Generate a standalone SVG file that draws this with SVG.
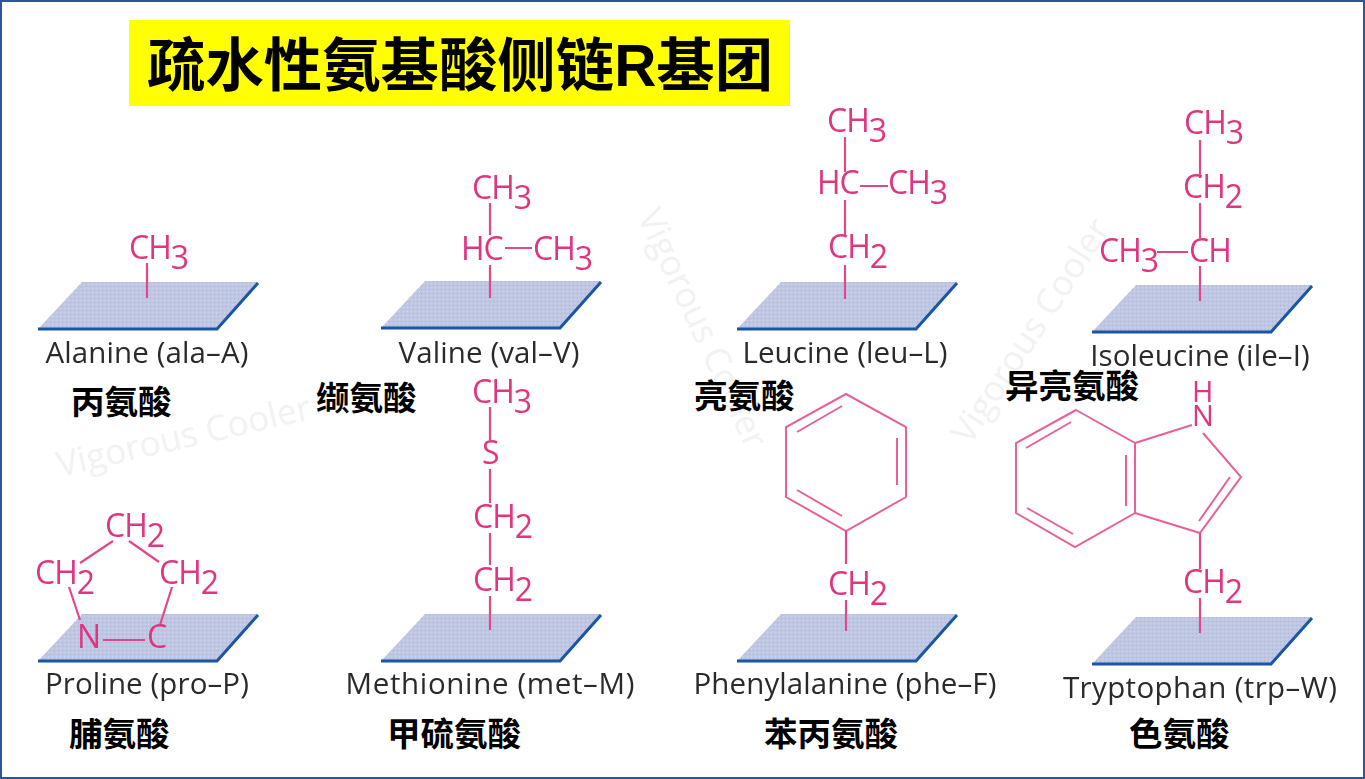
<svg xmlns="http://www.w3.org/2000/svg" width="1365" height="779" viewBox="0 0 1365 779">
<style>
.wm{font-family:"Open Sans","Liberation Sans",sans-serif;font-size:35px;fill:#f2f2f2}
.plate{fill:url(#tex)}
.edge{fill:none;stroke:#1a55a5;stroke-width:3}
.b{fill:none;stroke:#e2478a;stroke-width:2.2}
.r{fill:none;stroke:#e8609a;stroke-width:2}
.m{font-family:"Open Sans","Liberation Sans",sans-serif;font-size:32px;letter-spacing:-1px;fill:#e0367f}
.hn{font-size:29px}
.n{font-family:"Open Sans","Liberation Sans",sans-serif;font-size:29.5px;letter-spacing:.1px;fill:#2c2c2c;text-anchor:middle}
.c{font-family:"Liberation Sans","Noto Sans CJK SC",sans-serif;font-weight:700;font-size:33.5px;fill:#000}
.soft{filter:url(#soft)}
</style>
<defs>
<filter id="soft" x="-5%" y="-5%" width="110%" height="110%"><feGaussianBlur stdDeviation="0.4"/></filter>
<pattern id="tex" width="4" height="4" patternUnits="userSpaceOnUse"><rect width="4" height="4" fill="#bfc7e3"/><rect width="1" height="1" fill="#aab4d6"/><rect x="2" y="2" width="1" height="1" fill="#cdd4ec"/></pattern>
<g id="pl"><polygon class="plate" points="0,47 44,0 220,0 179,47"/><path class="edge" d="M0,47H179L220,1"/></g>
</defs>
<rect x="1" y="1" width="1363" height="777" fill="#fff" stroke="#2f5597" stroke-width="2"/>
<g id="watermarks">
<text class="wm" transform="translate(60,477) rotate(-13)">Vigorous Cooler</text>
<text class="wm" transform="translate(637,216) rotate(65)">Vigorous Cooler</text>
<text class="wm" transform="translate(970,446) rotate(-57)">Vigorous Cooler</text>
</g>
<g id="title"><rect x="129" y="20" width="661" height="86" fill="#ffff00"/>
<text x="147" y="86" font-family="'Liberation Sans','Noto Sans CJK SC',sans-serif" font-weight="700" font-size="58.4">疏水性氨基酸侧链R基团</text></g>

<g id="alanine"><g class="soft"><use href="#pl" x="38" y="282"/><path class="b" d="M147,263V298"/>
<text class="m" x="129" y="259">CH<tspan dy="10">3</tspan></text>
<text class="n" x="147" y="363">Alanine (ala–A)</text></g><text class="c" x="71" y="414">丙氨酸</text></g>

<g id="valine"><g class="soft"><use href="#pl" x="381" y="281"/><path class="b" d="M490,203V235M490,265V298M505,248H532"/>
<text class="m" x="472" y="199">CH<tspan dy="10">3</tspan></text>
<text class="m" x="461" y="260">HC</text><text class="m" x="533" y="260">CH<tspan dy="10">3</tspan></text>
<text class="n" x="489" y="363">Valine (val–V)</text></g><text class="c" x="316" y="410">缬氨酸</text></g>

<g id="leucine"><g class="soft"><use href="#pl" x="737" y="282"/><path class="b" d="M845,137V172M845,200V236M845,265V299M860,186H888"/>
<text class="m" x="827" y="132">CH<tspan dy="10">3</tspan></text>
<text class="m" x="817" y="194">HC</text><text class="m" x="888" y="194">CH<tspan dy="10">3</tspan></text>
<text class="m" x="828" y="258">CH<tspan dy="10">2</tspan></text>
<text class="n" x="845" y="363">Leucine (leu–L)</text></g><text class="c" x="694" y="408">亮氨酸</text></g>

<g id="isoleucine"><g class="soft"><use href="#pl" x="1092" y="285"/><path class="b" d="M1200,140V178M1200,203V238M1200,266V301M1157,252H1188"/>
<text class="m" x="1184" y="134">CH<tspan dy="10">3</tspan></text>
<text class="m" x="1183" y="198">CH<tspan dy="10">2</tspan></text>
<text class="m" x="1189" y="262">CH</text><text class="m" x="1099" y="262">CH<tspan dy="10">3</tspan></text>
<text class="n" x="1200" y="366">Isoleucine (ile–I)</text></g><text class="c" x="1005" y="398">异亮氨酸</text></g>

<g id="proline"><g class="soft"><use href="#pl" x="38" y="614"/><path class="b" d="M113,541L80,563M129,541L159,562M69,587L80,620M172,587L160,625M103,640H145"/>
<text class="m" x="105" y="537">CH<tspan dy="10">2</tspan></text>
<text class="m" x="35" y="584">CH<tspan dy="10">2</tspan></text>
<text class="m" x="159" y="584">CH<tspan dy="10">2</tspan></text>
<text class="m" x="77" y="648">N</text><text class="m" x="147" y="648">C</text>
<text class="n" x="147" y="694">Proline (pro–P)</text></g><text class="c" x="69" y="746">脯氨酸</text></g>

<g id="methionine"><g class="soft"><use href="#pl" x="381" y="614"/><path class="b" d="M490,407V440M490,469V503M490,533V565M490,596V630"/>
<text class="m" x="472" y="403">CH<tspan dy="10">3</tspan></text>
<text class="m" x="482" y="464">S</text>
<text class="m" x="473" y="528">CH<tspan dy="10">2</tspan></text>
<text class="m" x="473" y="591">CH<tspan dy="10">2</tspan></text>
<text class="n" x="490" y="694" textLength="289">Methionine (met–M)</text></g><text class="c" x="387" y="746">甲硫氨酸</text></g>

<g id="phenylalanine"><g class="soft"><use href="#pl" x="737" y="614"/>
<path class="r" d="M846,394L906,427V497L846,531L786,497V427ZM797,432L842,406M897,438V485M797,490L842,516"/>
<path class="b" d="M846,531V564M846,600V631"/>
<text class="m" x="828" y="595">CH<tspan dy="10">2</tspan></text>
<text class="n" x="845" y="694">Phenylalanine (phe–F)</text></g><text class="c" x="764" y="746">苯丙氨酸</text></g>

<g id="tryptophan"><g class="soft"><use href="#pl" x="1092" y="617"/>
<path class="r" d="M1076,410L1135,443V513L1075,547L1016,513V443ZM1026,448L1071,422M1126,455V506M1027,508L1073,534M1135,443L1192,425M1203,433L1241,477L1200,533L1135,513M1230,477L1199,521"/>
<path class="b" d="M1200,533V569M1200,598V633"/>
<text class="m hn" x="1192" y="402">H</text><text class="m hn" x="1192" y="426">N</text>
<text class="m" x="1183" y="593">CH<tspan dy="10">2</tspan></text>
<text class="n" x="1200" y="698" textLength="274">Tryptophan (trp–W)</text></g><text class="c" x="1129" y="746">色氨酸</text></g>
</svg>
